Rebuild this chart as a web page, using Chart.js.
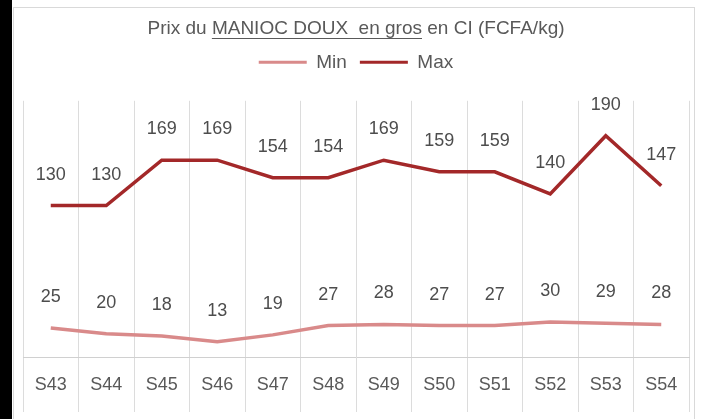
<!DOCTYPE html>
<html>
<head>
<meta charset="utf-8">
<script src="https://cdn.jsdelivr.net/npm/chart.js@4.4.0/dist/chart.umd.min.js"></script>
<style>
  html, body { margin: 0; padding: 0; background: #fff; }
  #wrap { position: relative; width: 701px; height: 419px; overflow: hidden; }
  #bande { position: absolute; left: 0; top: 0; width: 12px; height: 419px; background: #000; }
  #cadre { position: absolute; left: 13px; top: 7px; width: 680px; height: 420px; border: 1px solid #d9d9d9; }
  #graphique { position: absolute; left: 0; top: 0; }
</style>
</head>
<body>
<div id="wrap">
  <div id="bande"></div>
  <div id="cadre"></div>
  <canvas id="graphique" width="701" height="419"></canvas>
</div>
<script>
// données
const semaines = ['S43', 'S44', 'S45', 'S46', 'S47', 'S48', 'S49', 'S50', 'S51', 'S52', 'S53', 'S54'];
const prixMin = [25, 20, 18, 13, 19, 27, 28, 27, 27, 30, 29, 28];
const prixMax = [130, 130, 169, 169, 154, 154, 169, 159, 159, 140, 190, 147];

const titreDebut = 'Prix du ';
const titreSouligne = 'MANIOC DOUX  en gros';
const titreFin = ' en CI (FCFA/kg)';

const POLICE = "'Liberation Sans', Arial, sans-serif";
const GRIS_TEXTE = '#595959';
const GRIS_VALEURS = '#4d4d4d';

// étiquettes de valeurs au-dessus des points
const etiquettesPlugin = {
    id: 'etiquettes',
    afterDatasetsDraw(chart) {
        const ctx = chart.ctx;
        ctx.save();
        ctx.font = '18px ' + POLICE;
        ctx.fillStyle = GRIS_VALEURS;
        ctx.textAlign = 'center';
        ctx.textBaseline = 'middle';
        chart.data.datasets.forEach((ds, i) => {
            chart.getDatasetMeta(i).data.forEach((pt, j) => {
                ctx.fillText(String(ds.data[j]), pt.x, pt.y - 31);
            });
        });
        ctx.restore();
    }
};

// soulignement d'une partie du titre
const soulignePlugin = {
    id: 'souligne',
    afterDraw(chart) {
        const bloc = chart.titleBlock;
        if (!bloc) return;
        const ctx = chart.ctx;
        const font = chart.options.plugins.title.font;
        ctx.save();
        ctx.font = font.size + 'px ' + font.family;
        const total = ctx.measureText(titreDebut + titreSouligne + titreFin).width;
        const x0 = (bloc.left + bloc.right) / 2 - total / 2 + ctx.measureText(titreDebut).width;
        const x1 = x0 + ctx.measureText(titreSouligne).width;
        const y = bloc.top + chart.options.plugins.title.padding.top + font.size * 1.2 / 2 + font.size * 0.5;
        ctx.strokeStyle = GRIS_TEXTE;
        ctx.lineWidth = 1;
        ctx.beginPath();
        ctx.moveTo(x0, Math.round(y) + 0.5);
        ctx.lineTo(x1, Math.round(y) + 0.5);
        ctx.stroke();
        ctx.restore();
    }
};

const datos = {
    labels: semaines,
    datasets: [
        {
            label: 'Min',
            data: prixMin,
            borderColor: '#d98a8a',
            backgroundColor: '#d98a8a',
            borderWidth: 3.5,
            pointRadius: 0,
            tension: 0
        },
        {
            label: 'Max',
            data: prixMax,
            borderColor: '#a32829',
            backgroundColor: '#a32829',
            borderWidth: 3.5,
            pointRadius: 0,
            tension: 0
        }
    ]
};

const configuracion = {
    type: 'line',
    data: datos,
    plugins: [etiquettesPlugin, soulignePlugin],
    options: {
        responsive: false,
        animation: false,
        layout: { padding: { left: 23, right: 12, top: 0, bottom: 22 } },
        plugins: {
            title: {
                display: true,
                text: titreDebut + titreSouligne + titreFin,
                color: GRIS_TEXTE,
                font: { family: POLICE, size: 19, weight: 'normal' },
                padding: { top: 17, bottom: 0 }
            },
            legend: {
                position: 'top',
                labels: {
                    color: GRIS_TEXTE,
                    font: { family: POLICE, size: 19 },
                    boxWidth: 48,
                    boxHeight: 3,
                    padding: 13,
                    generateLabels(chart) {
                        return Chart.defaults.plugins.legend.labels.generateLabels(chart)
                            .map(l => Object.assign(l, { lineWidth: 0 }));
                    }
                }
            },
            tooltip: { enabled: false }
        },
        scales: {
            x: {
                offset: true,
                grid: { offset: true, color: '#dcdcdc', tickLength: 55, tickColor: '#dcdcdc' },
                border: { display: true, color: '#d0d0d0' },
                ticks: {
                    color: GRIS_TEXTE,
                    font: { family: POLICE, size: 18 },
                    padding: -38,
                    maxRotation: 0
                },
                afterFit(scale) { scale.height = 40; }
            },
            espace: {
                type: 'category',
                position: 'top',
                offset: true,
                grid: { display: false },
                border: { display: false },
                ticks: { display: false },
                afterFit(scale) { scale.height = 19; }
            },
            y: {
                display: false,
                min: 0,
                max: 220
            }
        }
    }
};

const ctx = document.getElementById('graphique').getContext('2d');
new Chart(ctx, configuracion);
</script>
</body>
</html>
